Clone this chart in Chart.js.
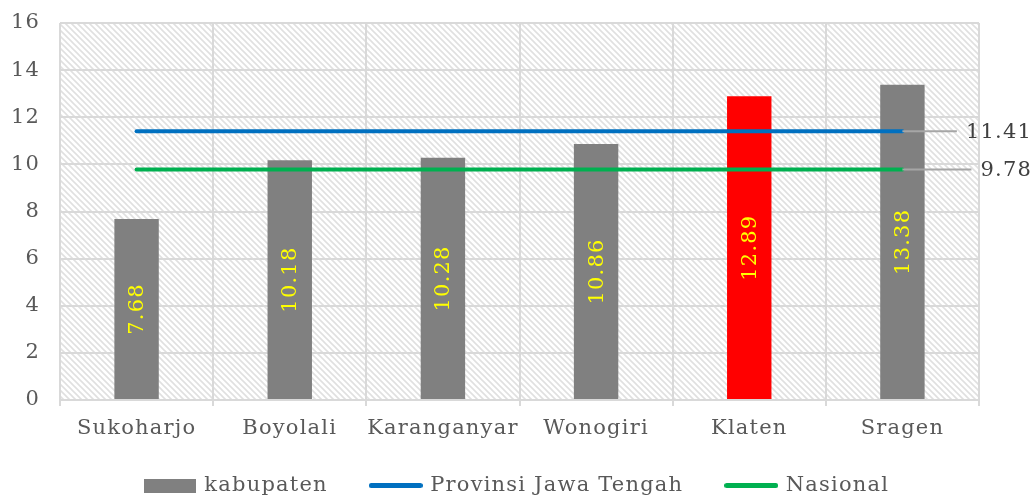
<!DOCTYPE html>
<html>
<head>
<meta charset="utf-8">
<script src="https://cdn.jsdelivr.net/npm/chart.js@4/dist/chart.umd.min.js"></script>
<style>
  html, body { margin: 0; padding: 0; background: #ffffff; overflow: hidden; }
  #wrap { width: 1035px; height: 498px; overflow: hidden; }
</style>
</head>
<body>
<div id="wrap"><canvas id="c" width="1035" height="506"></canvas></div>
<script>
const categories = ['Sukoharjo', 'Boyolali', 'Karanganyar', 'Wonogiri', 'Klaten', 'Sragen'];
const kabupatenValues = [7.68, 10.18, 10.28, 10.86, 12.89, 13.38];
const provinsiValue = 11.41;
const nasionalValue = 9.78;
const seriesNames = ['kabupaten', 'Provinsi Jawa Tengah', 'Nasional'];
const yTicks = [0, 2, 4, 6, 8, 10, 12, 14, 16];
const highlightCategory = 'Klaten';

const FONT = '"DejaVu Serif", "Liberation Serif", serif';
const TEXT = '#595959';
const GRID = '#d9d9d9';
const BAR = '#808080';
const RED = '#ff0000';
const BLUE = '#0070c0';
const GREEN = '#00b050';
const SPACING = '1.2px';

function makeHatch() {
  const t = document.createElement('canvas');
  t.width = 6; t.height = 6;
  const g = t.getContext('2d');
  g.fillStyle = '#ffffff';
  g.fillRect(0, 0, 6, 6);
  g.strokeStyle = '#e0e0e0';
  g.lineWidth = 1.6;
  g.beginPath();
  g.moveTo(-1, -1); g.lineTo(7, 7);
  g.moveTo(-4, 2); g.lineTo(4, 10);
  g.moveTo(2, -4); g.lineTo(10, 4);
  g.stroke();
  return t;
}
function makeBox(w, h, color) {
  const c = document.createElement('canvas');
  c.width = w; c.height = h;
  const g = c.getContext('2d');
  g.fillStyle = color; g.fillRect(0, 0, w, h);
  return c;
}
function makeLine(w, h, color) {
  const c = document.createElement('canvas');
  c.width = w; c.height = h;
  const g = c.getContext('2d');
  g.strokeStyle = color; g.lineWidth = h; g.lineCap = 'round';
  g.beginPath(); g.moveTo(h / 2, h / 2); g.lineTo(w - h / 2, h / 2); g.stroke();
  return c;
}
const hatchTile = makeHatch();
const legendIcons = [makeBox(52, 14, BAR), makeLine(54, 5, BLUE), makeLine(54, 5, GREEN)];

const spacingPlugin = {
  id: 'spacing',
  beforeInit(chart) { chart.ctx.letterSpacing = SPACING; },
  beforeUpdate(chart) { chart.ctx.letterSpacing = SPACING; },
  beforeLayout(chart) { chart.ctx.letterSpacing = SPACING; },
  beforeDraw(chart) { chart.ctx.letterSpacing = SPACING; }
};

const bgPlugin = {
  id: 'bg',
  beforeDraw(chart) {
    const { ctx, chartArea: a } = chart;
    ctx.save();
    ctx.fillStyle = '#ffffff';
    ctx.fillRect(0, 0, chart.width, chart.height);
    ctx.fillStyle = ctx.createPattern(hatchTile, 'repeat');
    ctx.fillRect(a.left, a.top, a.right - a.left, a.bottom - a.top);
    ctx.restore();
  }
};

const labelPlugin = {
  id: 'labels',
  afterDatasetsDraw(chart) {
    const { ctx } = chart;
    const barMeta = chart.getDatasetMeta(0);
    ctx.save();
    ctx.font = '21px ' + FONT;
    ctx.fillStyle = '#ffff00';
    ctx.textAlign = 'center';
    ctx.textBaseline = 'middle';
    barMeta.data.forEach((el, i) => {
      const cy = (el.y + el.base) / 2;
      ctx.save();
      ctx.translate(el.x, cy);
      ctx.rotate(-Math.PI / 2);
      ctx.fillText(kabupatenValues[i].toFixed(2), 0, 1);
      ctx.restore();
    });
    ctx.restore();
    const refs = [[1, provinsiValue], [2, nasionalValue]];
    ctx.save();
    ctx.font = '21px ' + FONT;
    refs.forEach(([idx, v]) => {
      const meta = chart.getDatasetMeta(idx);
      const last = meta.data[meta.data.length - 1];
      const label = v.toFixed(2);
      const textRight = 1032;
      const tw = ctx.measureText(label).width;
      const textLeft = textRight - tw;
      ctx.strokeStyle = '#a6a6a6';
      ctx.lineWidth = 2;
      ctx.beginPath();
      ctx.moveTo(last.x, last.y);
      ctx.lineTo(textLeft - 9, last.y);
      ctx.stroke();
      ctx.fillStyle = '#404040';
      ctx.textAlign = 'right';
      ctx.textBaseline = 'middle';
      ctx.fillText(label, textRight, last.y + 1);
    });
    ctx.restore();
  }
};

new Chart(document.getElementById('c'), {
  data: {
    labels: categories,
    datasets: [
      {
        type: 'bar',
        label: seriesNames[0],
        data: kabupatenValues,
        backgroundColor: categories.map(c => c === highlightCategory ? RED : BAR),
        barPercentage: 0.29,
        categoryPercentage: 1.0,
        order: 2
      },
      {
        type: 'line',
        label: seriesNames[1],
        data: categories.map(() => provinsiValue),
        borderColor: BLUE,
        backgroundColor: BLUE,
        borderWidth: 4,
        pointRadius: 0,
        borderCapStyle: 'round',
        order: 1
      },
      {
        type: 'line',
        label: seriesNames[2],
        data: categories.map(() => nasionalValue),
        borderColor: GREEN,
        backgroundColor: GREEN,
        borderWidth: 4,
        pointRadius: 0,
        borderCapStyle: 'round',
        order: 0
      }
    ]
  },
  options: {
    responsive: false,
    animation: false,
    events: [],
    layout: { padding: { top: 23, right: 0, left: 0, bottom: 0 } },
    plugins: {
      tooltip: { enabled: false },
      legend: {
        position: 'bottom',
        labels: {
          font: { family: FONT, size: 21 },
          color: TEXT,
          usePointStyle: true,
          pointStyleWidth: 48,
          boxHeight: 14,
          padding: 44,
          generateLabels() {
            return seriesNames.map((n, i) => ({
              text: n,
              pointStyle: legendIcons[i],
              fillStyle: 'transparent',
              strokeStyle: 'transparent',
              lineWidth: 0,
              fontColor: TEXT,
              hidden: false,
              datasetIndex: i
            }));
          }
        }
      }
    },
    scales: {
      x: {
        offset: true,
        grid: { offset: true, color: GRID, lineWidth: 2, drawTicks: true, tickLength: 6 },
        border: { color: GRID, width: 2 },
        ticks: { font: { family: FONT, size: 21 }, color: TEXT, padding: 10, maxRotation: 0, autoSkip: false },
        afterFit(s) {
          s.height = 31;
          s._computeLabelArea = function () { return undefined; };
        }
      },
      y: {
        min: 0,
        max: 16,
        afterBuildTicks(s) { s.ticks = yTicks.map(v => ({ value: v })); },
        grid: { color: GRID, lineWidth: 2, drawTicks: false },
        border: { display: false },
        ticks: { font: { family: FONT, size: 21 }, color: TEXT, padding: 20 },
        afterFit(s) { s.width = 60; s.paddingTop = 0; s.paddingBottom = 0; }
      },
      yRight: {
        position: 'right',
        display: true,
        min: 0,
        max: 16,
        grid: { display: false, drawTicks: false },
        border: { display: false },
        ticks: { display: false },
        afterFit(s) { s.width = 56; s.paddingTop = 0; s.paddingBottom = 0; }
      }
    }
  },
  plugins: [spacingPlugin, bgPlugin, labelPlugin]
});
</script>
</body>
</html>
